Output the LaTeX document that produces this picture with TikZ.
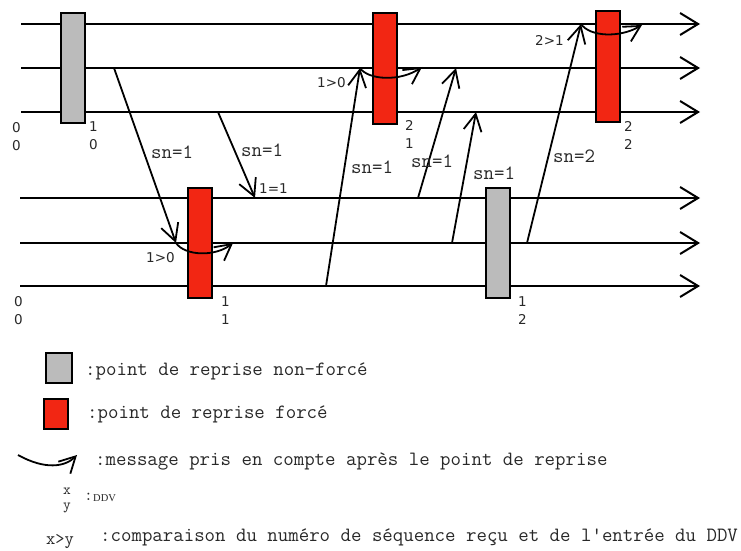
\documentclass[tikz,border=0pt]{standalone}
\usepackage{fontspec}
\usetikzlibrary{arrows.meta}
\newfontfamily\sansf{DejaVu Sans}
\newfontfamily\seriff{Liberation Serif}
\definecolor{ckred}{RGB}{242,38,19}
\definecolor{ckgray}{RGB}{187,187,187}
\definecolor{txt}{RGB}{40,40,40}
\tikzset{
  proc/.style={line width=2pt, -{Straight Barb[length=18pt,width=22pt]}},
  msgline/.style={line width=1.8pt, -{Straight Barb[length=17pt,width=18pt]}},
  takecurve/.style={line width=1.8pt, -{Straight Barb[length=16pt,width=17pt]}},
  ckbox/.style={draw=black, line width=2pt, minimum width=24pt, minimum height=110pt, inner sep=0pt},
  forced/.style={ckbox, fill=ckred},
  unforced/.style={ckbox, fill=ckgray},
  monolabel/.style={inner sep=0pt, anchor=base west, text=txt, font=\ttfamily\fontsize{20.3}{22}\selectfont},
  ddv/.style={inner sep=0pt, anchor=base west, text=txt, align=left, font=\sansf\fontsize{13.5}{17.5}\selectfont},
  cmp/.style={inner sep=0pt, anchor=base west, text=txt, font=\sansf\fontsize{13.5}{17.5}\selectfont},
}
\begin{document}
\begin{tikzpicture}[x=1pt,y=-1pt]
\useasboundingbox (0,0) rectangle (741,551);
% process lines
\coordinate (a1s) at (21,24);  \coordinate (a1e) at (700,24);
\coordinate (a2s) at (21,68);  \coordinate (a2e) at (700,68);
\coordinate (a3s) at (21,112); \coordinate (a3e) at (700,112);
\coordinate (b1s) at (20,198); \coordinate (b1e) at (700,198);
\coordinate (b2s) at (20,243); \coordinate (b2e) at (700,243);
\coordinate (b3s) at (20,286); \coordinate (b3e) at (700,286);
\foreach \p in {a1,a2,a3,b1,b2,b3} \draw[proc] (\p s) -- (\p e);
% checkpoints
\node[unforced] (G1) at (73,68) {};
\node[forced] (R1) at (385,68.5) {};
\node[forced, minimum height=111pt] (R2) at (607.5,66.5) {};
\node[forced] (R3) at (199.5,243) {};
\node[unforced] (G2) at (497.5,243) {};
% message end points
\coordinate (m1s) at (114,68);  \coordinate (m1e) at (176,243);
\coordinate (m2s) at (218,112); \coordinate (m2e) at (255,198);
\coordinate (m3s) at (326,286); \coordinate (m3e) at (360,68);
\coordinate (m4s) at (418,198); \coordinate (m4e) at (456,68);
\coordinate (m5s) at (452,243); \coordinate (m5e) at (476,112);
\coordinate (m6s) at (527,243); \coordinate (m6e) at (581,24);
\foreach \m in {m1,m2,m3,m4,m5,m6} \draw[msgline] (\m s) -- (\m e);
% messages taken into account after the checkpoint
\coordinate (c1e) at (233,243);
\coordinate (c3e) at (422,67);
\coordinate (c6e) at (642,25);
\draw[takecurve] (m1e) .. controls (185,256) and (215,257) .. (c1e);
\draw[takecurve] (m3e) .. controls (368,80) and (400,82) .. (c3e);
\draw[takecurve] (m6e) .. controls (590,37) and (620,38) .. (c6e);
% message labels
\node[monolabel] (l1) at (151,158) {sn=1};
\node[monolabel] (l2) at (241,156) {sn=1};
\node[monolabel] (l3) at (351,173) {sn=1};
\node[monolabel] (l4) at (411,167) {sn=1};
\node[monolabel] (l5) at (473,179) {sn=1};
\node[monolabel] (l6) at (553,162) {sn=2};
% comparisons
\node[cmp] (k1) at (317,88) {1>0};
\node[cmp] (k2) at (259,193) {1=1};
\node[cmp] (k3) at (535,46) {2>1};
\node[cmp] (k4) at (146,262) {1>0};
% DDV (anchor = baseline of the second line)
\node[ddv] (d1) at (12,150) {0\\0};
\node[ddv] (d2) at (89,149) {1\\0};
\node[ddv] (d3) at (405,148) {2\\1};
\node[ddv] (d4) at (624,149) {2\\2};
\node[ddv] (d5) at (14,324) {0\\0};
\node[ddv] (d6) at (221,324) {1\\1};
\node[ddv] (d7) at (518,324) {1\\2};
% legend
\node[unforced, minimum width=26pt, minimum height=30pt] (LG) at (59,368) {};
\node[forced, minimum width=24pt, minimum height=30pt] (LR) at (56,414) {};
\node[monolabel] (t1) at (85,375) {:point de reprise non-forcé};
\node[monolabel] (t2) at (87,418) {:point de reprise forcé};
\coordinate (lcs) at (18,455); \coordinate (lce) at (77,455);
\draw[takecurve] (lcs) .. controls (45,470) and (65,467) .. (lce);
\node[monolabel] (t3) at (95,465) {:message pris en compte après le point de reprise};
\node[monolabel, font=\ttfamily\fontsize{15}{18}\selectfont] (tx) at (63,494) {x};
\node[monolabel, font=\ttfamily\fontsize{15}{18}\selectfont] (ty) at (63,509) {y};
\node[monolabel, font=\ttfamily\fontsize{17}{18}\selectfont] (tc) at (84,500) {:};
\node[inner sep=0pt, anchor=base west, text=txt, font=\seriff\fontsize{10.5}{12}\selectfont] (tddv) at (93,501) {DDV};
\node[monolabel, font=\ttfamily\fontsize{18}{20}\selectfont] (txy) at (46,544) {x>y};
\node[monolabel] (t5) at (100,541) {:comparaison du numéro de séquence reçu et de l'entrée du DDV};
\end{tikzpicture}
\end{document}
